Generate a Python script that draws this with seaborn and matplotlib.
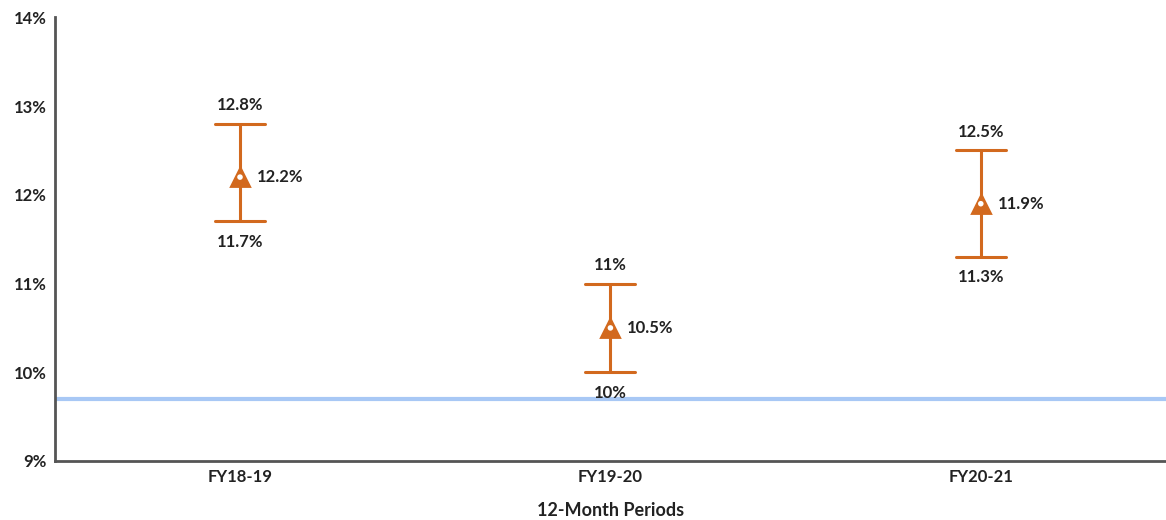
import seaborn as sns
import pandas as pd
import matplotlib.pyplot as plt

periods = ['FY18-19', 'FY19-20', 'FY20-21']
low = [11.7, 10.0, 11.3]
mid = [12.2, 10.5, 11.9]
high = [12.8, 11.0, 12.5]
low_labels = ['11.7%', '10%', '11.3%']
mid_labels = ['12.2%', '10.5%', '11.9%']
high_labels = ['12.8%', '11%', '12.5%']
baseline = 9.7
y_ticks = [9, 10, 11, 12, 13, 14]

orange = '#d2691e'

sns.set_style('white')
plt.rcParams['font.family'] = ['Lato', 'DejaVu Sans']

# long format: median of the three values is the mid point, min/max are the bar ends
rows = []
for p, a, b, c in zip(periods, low, mid, high):
    for v in (a, b, c):
        rows.append({'period': p, 'value': v})
df = pd.DataFrame(rows)

fig = plt.figure(figsize=(11.66, 5.2), dpi=100)
ax = fig.add_axes([0.047, 0.1135, 0.953, 0.853])

ax.axhline(baseline, color='#a8c8f5', lw=3, zorder=1)

sns.pointplot(data=df, x='period', y='value', estimator='median',
              errorbar=lambda x: (x.min(), x.max()), capsize=0.135,
              linestyle='none', color=orange, marker='^', markersize=13,
              err_kws={'linewidth': 2.2}, ax=ax, zorder=3)
sns.scatterplot(x=periods, y=mid, color='white', s=16, edgecolor='none', ax=ax, zorder=5)

for i in range(len(periods)):
    ax.text(i, high[i] + 0.12, high_labels[i], ha='center', va='bottom',
            fontsize=12, fontweight='bold', color='#222222')
    ax.text(i, low[i] - 0.14, low_labels[i], ha='center', va='top',
            fontsize=12, fontweight='bold', color='#222222')
    ax.text(i + 0.045, mid[i], mid_labels[i], ha='left', va='center',
            fontsize=12, fontweight='bold', color='#222222')

ax.set_xlim(-0.5, 2.5)
ax.set_ylim(9, 14)
ax.set_yticks(y_ticks)
ax.set_yticklabels([f'{t}%' for t in y_ticks], fontsize=12, fontweight='bold', color='#222222')
ax.set_xticks(range(len(periods)))
ax.set_xticklabels(periods, fontsize=12, fontweight='bold', color='#222222')
ax.set_xlabel('12-Month Periods', fontsize=13, fontweight='bold', color='#222222', labelpad=12)
ax.set_ylabel('')
ax.tick_params(axis='both', length=0, pad=6)

for s in ['top', 'right']:
    ax.spines[s].set_visible(False)
for s in ['left', 'bottom']:
    ax.spines[s].set_color('#555555')
    ax.spines[s].set_linewidth(2)

fig.savefig('out.png', dpi=100)
